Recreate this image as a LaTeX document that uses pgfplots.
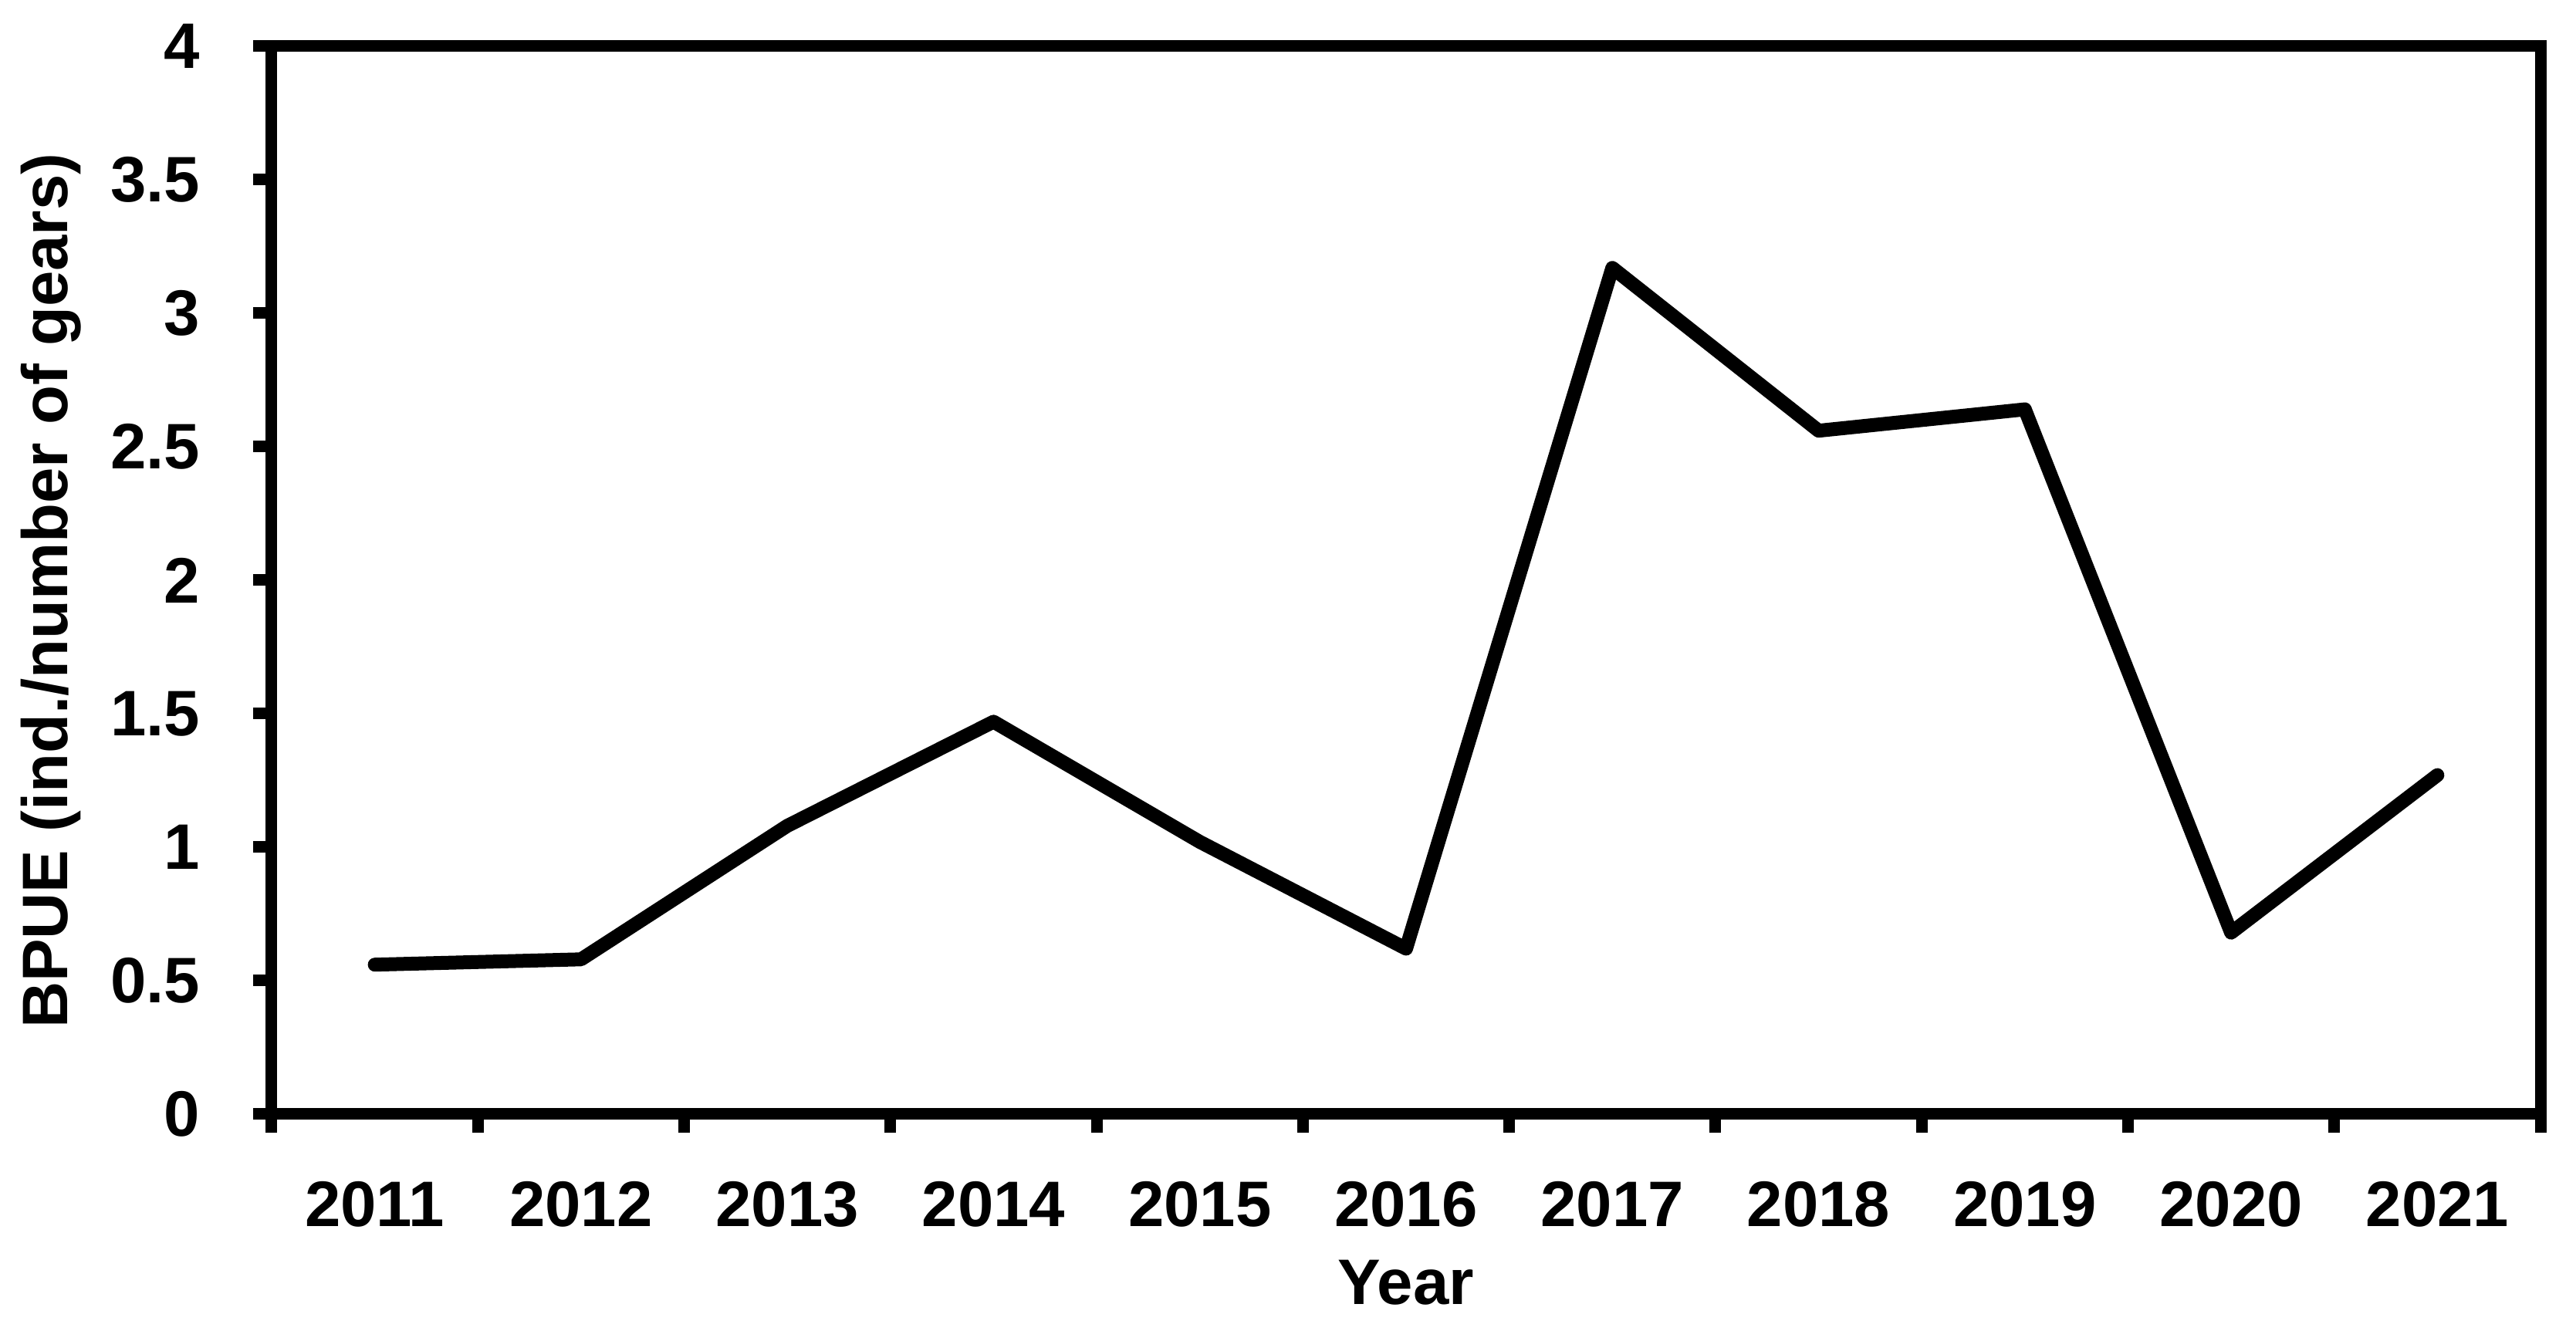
\documentclass[border=0pt]{standalone}
\usepackage{pgfplots}
\pgfplotsset{compat=1.18}
\usepackage{fontspec}
\setmainfont{Liberation Sans}
\begin{document}
\begin{tikzpicture}
\begin{axis}[
  at={(0,0)}, anchor=south west,
  scale only axis,
  width=441pt, height=207.6pt,
  xmin=-0.5, xmax=10.5,
  ymin=0, ymax=4,
  axis line style={line width=2.25pt},
  every tick/.style={black, line width=2.25pt},
  tick align=outside,
  xtick pos=bottom, ytick pos=left,
  xtick={0,1,2,3,4,5,6,7,8,9,10},
  xticklabels={2011,2012,2013,2014,2015,2016,2017,2018,2019,2020,2021},
  major x tick style={draw=none},
  minor xtick={-0.5,0.5,1.5,2.5,3.5,4.5,5.5,6.5,7.5,8.5,9.5,10.5},
  minor tick length=3.6pt,
  ytick={0,0.5,1,1.5,2,2.5,3,3.5,4},
  yticklabels={0,0.5,1,1.5,2,2.5,3,3.5,4},
  major tick length=3.6pt,
  ticklabel style={font=\fontsize{12.5}{15}\selectfont\bfseries},
  xticklabel style={anchor=north, yshift=-6pt},
  yticklabel style={anchor=east, xshift=-6.8pt},
  /pgf/number format/assume math mode=true,
  xlabel={Year},
  ylabel={BPUE (ind./number of gears)},
  label style={font=\fontsize{12.5}{15}\selectfont\bfseries},
  xlabel style={at={(axis description cs:0.5,-0.158)}, anchor=center},
  ylabel style={at={(axis description cs:-0.0973,0.49)}, anchor=center, rotate=0},
]
\addplot[black, line width=2.7pt, line cap=round, line join=round] coordinates {
  (0,0.56) (1,0.58) (2,1.08) (3,1.47) (4,1.02) (5,0.62)
  (6,3.17) (7,2.56) (8,2.64) (9,0.68) (10,1.27)
};
\end{axis}
\pgfresetboundingbox
\path (-52.8pt,-42.15pt) rectangle (447.9pt,216.6pt);
\end{tikzpicture}
\end{document}
